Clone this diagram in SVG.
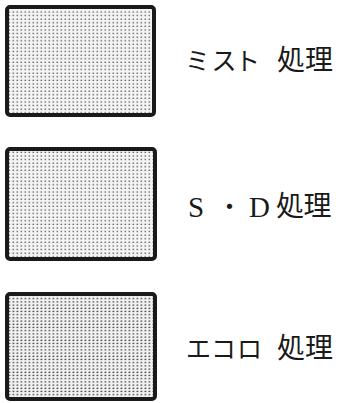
<svg xmlns="http://www.w3.org/2000/svg" width="339" height="403" viewBox="0 0 339 403">
<style>
.box{stroke:#1a1a1a;stroke-width:4;}
.lbl{font-family:"Noto Sans CJK JP","Noto Sans",sans-serif;fill:#1a1a1a;text-anchor:middle;}
.kana{font-size:25px;}
.kanji{font-size:28px;}
.lat{font-family:"Liberation Serif","Noto Sans CJK JP",serif;font-size:29px;}
</style>
<defs>
<pattern id="dotsA" width="4" height="3.6" patternUnits="userSpaceOnUse">
<rect width="4" height="3.6" fill="#f4f4f4"/>
<rect x="0.5" y="0.6" width="1.6" height="1.1" fill="#555"/>
</pattern>
<pattern id="dotsB" width="4" height="3.2" patternUnits="userSpaceOnUse">
<rect width="4" height="3.2" fill="#f2f2f2"/>
<rect x="0.5" y="0.5" width="1.8" height="1.2" fill="#444"/>
</pattern>
</defs>
<g id="node-mist">
<rect class="box" x="7" y="7" width="147" height="108" rx="3" fill="url(#dotsA)"/>
<text class="lbl" y="70"><tspan class="kana" x="197.5 224 247.5">ミスト</tspan><tspan class="kanji" x="291 319">処理</tspan></text>
</g>
<g id="node-sd">
<rect class="box" x="7" y="149" width="148" height="110" rx="3" fill="url(#dotsA)"/>
<text class="lbl" y="216"><tspan class="lat" x="196" y="217">S</tspan><tspan class="kana" x="229.5" y="216">・</tspan><tspan class="lat" x="259.5" y="217">D</tspan><tspan class="kanji" x="290 317.5" y="216">処理</tspan></text>
</g>
<g id="node-ecoro">
<rect class="box" x="7" y="294" width="148" height="105" rx="3" fill="url(#dotsB)"/>
<text class="lbl" y="358"><tspan class="kana" x="198.5 223.5 249.5">エコロ</tspan><tspan class="kanji" x="291 319">処理</tspan></text>
</g>
<g id="connectors"></g>
</svg>
